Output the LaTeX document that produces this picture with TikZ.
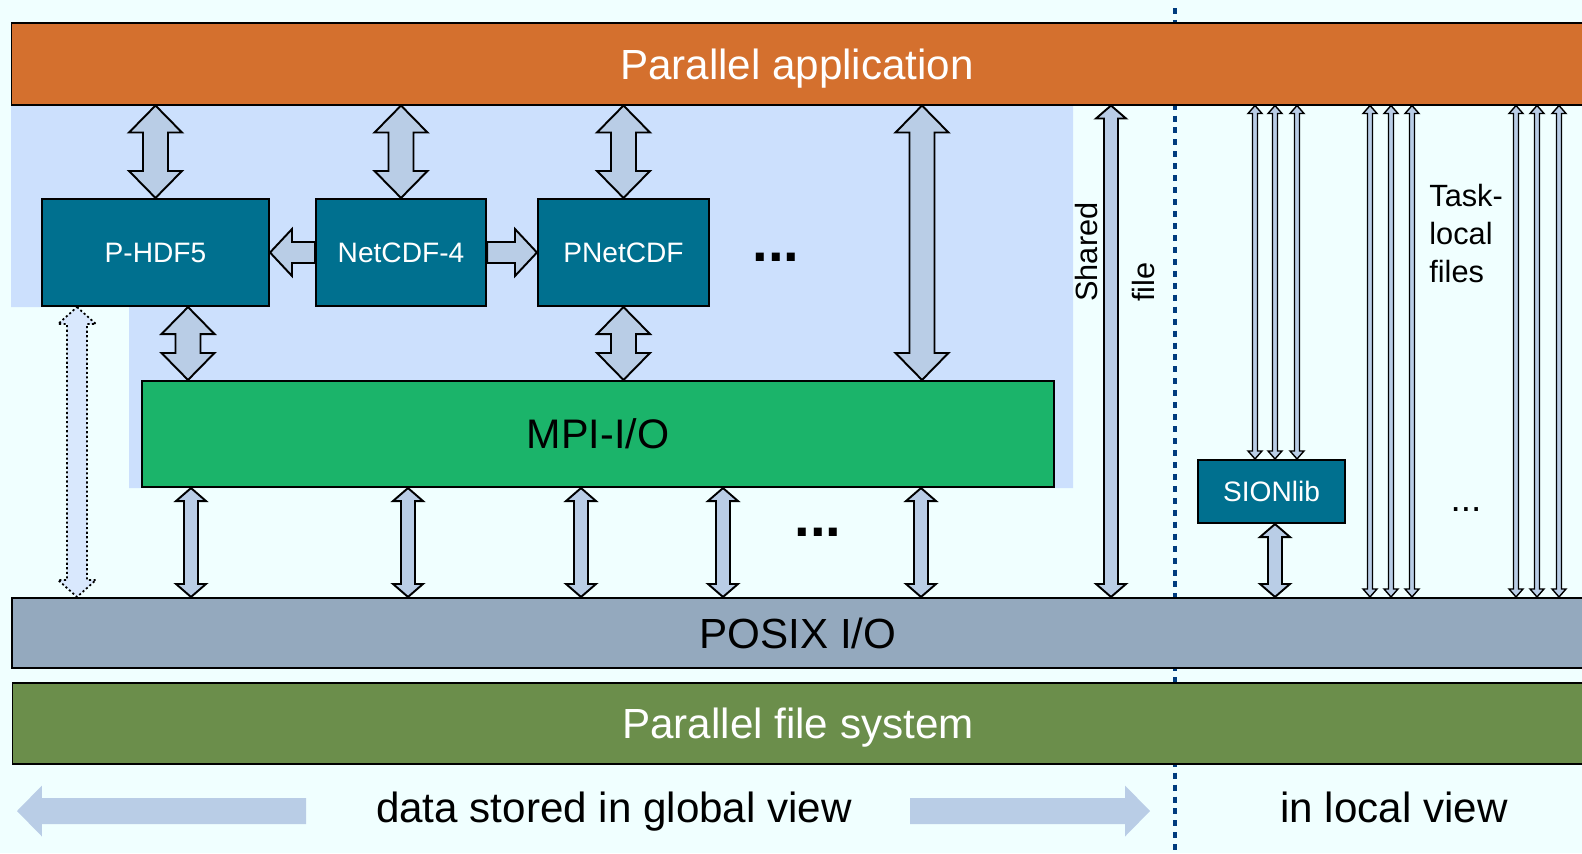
\documentclass[tikz,border=0pt]{standalone}
\usepackage{fontspec}
\setmainfont{Liberation Sans}
\usetikzlibrary{calc}
\definecolor{bgcol}{HTML}{F0FFFF}
\definecolor{appcol}{HTML}{D4702E}
\definecolor{areacol}{HTML}{CCE0FD}
\definecolor{boxcol}{HTML}{00708F}
\definecolor{mpicol}{HTML}{1BB46A}
\definecolor{posixcol}{HTML}{94A9BE}
\definecolor{fscol}{HTML}{6B8E4B}
\definecolor{arrowfill}{HTML}{B9CDE6}
\definecolor{dotfill}{HTML}{D9E8FD}
\definecolor{divcol}{HTML}{003C7E}
\tikzset{
	arrowsize/.code args={#1/#2/#3}{\def\shaftw{#1}\def\headw{#2}\def\headl{#3}},
	bar/.style={draw=black, line width=0.6pt, minimum width=31.44cm, inner sep=0pt,
		text height=17.2pt, text depth=0pt, font=\fontsize{24}{29}\selectfont},
	mpibox/.style={draw=black, line width=1.2pt, fill=mpicol, minimum width=18.24cm,
		minimum height=2.12cm, inner sep=0pt, font=\fontsize{23.5}{28}\selectfont},
	libbox/.style={draw=black, line width=1.2pt, fill=boxcol, text=white, inner sep=0pt,
		minimum height=2.14cm, font=\fontsize{16}{19}\selectfont},
	blockarrow/.style={draw=black, line width=1.1pt, fill=arrowfill, line join=miter},
	bigarrow/.style={blockarrow, arrowsize=0.25cm/0.53cm/0.54cm},
	sidearrow/.style={blockarrow, arrowsize=0.21cm/0.47cm/0.44cm},
	smallarrow/.style={blockarrow, arrowsize=0.14cm/0.3cm/0.26cm},
	thinarrow/.style={blockarrow, line width=0.8pt, arrowsize=0.05cm/0.14cm/0.16cm},
	dotarrow/.style={draw=black, line width=1pt, dash pattern=on 1.2pt off 1.4pt,
		fill=dotfill, arrowsize=0.2cm/0.38cm/0.34cm},
	flatarrow/.style={fill=arrowfill, draw=none, arrowsize=0.26cm/0.51cm/0.5cm},
	divider/.style={divcol, line width=2.3pt, dash pattern=on 3.4pt off 3.4pt},
	label/.style={font=\fontsize{24}{29}\selectfont, inner sep=0pt},
	small/.style={font=\fontsize{17.5}{21.6}\selectfont, inner sep=0pt},
	dots/.style={font=\fontsize{32}{36}\selectfont\bfseries, inner sep=0pt, anchor=base}
}
% double block arrow, top end first
\newcommand\vdouble[3][bigarrow]{%
	\draw[#1] let \p1=(#2), \p2=(#3) in
		(\x1,\y1) -- ({\x1+\headw},{\y1-\headl}) -- ({\x1+\shaftw},{\y1-\headl})
		-- ({\x1+\shaftw},{\y2+\headl}) -- ({\x1+\headw},{\y2+\headl}) -- (\x1,\y2)
		-- ({\x1-\headw},{\y2+\headl}) -- ({\x1-\shaftw},{\y2+\headl})
		-- ({\x1-\shaftw},{\y1-\headl}) -- ({\x1-\headw},{\y1-\headl}) -- cycle;
}
% single block arrow, pointing at the second end
\newcommand\hsingle[3][sidearrow]{%
	\draw[#1] let \p1=(#2), \p2=(#3), \n1={sign(\x2-\x1)} in
		(\x1,{\y1+\shaftw}) -- ({\x2-(\n1)*\headl},{\y1+\shaftw})
		-- ({\x2-(\n1)*\headl},{\y1+\headw}) -- (\x2,\y1)
		-- ({\x2-(\n1)*\headl},{\y1-\headw}) -- ({\x2-(\n1)*\headl},{\y1-\shaftw})
		-- (\x1,{\y1-\shaftw}) -- cycle;
}

\begin{document}
\begin{tikzpicture}[x=0.02cm, y=-0.02cm]
	% canvas
	\fill[bgcol] (0,0) rectangle (1582,853);
	\useasboundingbox (0,0) rectangle (1582,853);
	
	% area of the global-view libraries
	\fill[areacol] (11,105) -- (1073,105) -- (1073,488) -- (129,488)
		-- (129,307) -- (11,307) -- cycle;
	
	% divider global / local
	\draw[divider] (1175,8) -- (1175,853);
	
	% layers
	\node[bar, fill=appcol, text=white, minimum height=1.64cm] (app) at (797,64) {Parallel application};
	\node[bar, fill=posixcol, line width=1.2pt, minimum height=1.4cm] (posix) at (798,633) {POSIX I/O};
	\node[bar, fill=fscol, text=white, minimum height=1.62cm] (pfs) at (798,723.5) {Parallel file system};
	\node[mpibox] (mpi) at (598,434) {MPI-I/O};
	
	% libraries
	\node[libbox, minimum width=4.54cm] (phdf) at (155.5,252.5) {P-HDF5};
	\node[libbox, minimum width=3.4cm] (ncdf) at (401,252.5) {NetCDF-4};
	\node[libbox, minimum width=3.42cm] (pncdf) at (623.5,252.5) {PNetCDF};
	\node[libbox, minimum width=2.94cm, minimum height=1.26cm] (sion) at (1271.5,491.5) {SIONlib};
	\node[dots] (libdots) at (776,261) {...};
	\node[dots] (mpidots) at (818,536) {...};
	\node[small, font=\fontsize{21}{24}\selectfont, anchor=base] (taskdots) at (1466,511) {...};
	
	% application to libraries
	\foreach \lib in {phdf,ncdf,pncdf}
		\vdouble[bigarrow]{\lib.north |- app.south}{\lib.north};
	\coordinate (direct) at (922,0);
	\vdouble[bigarrow]{direct |- app.south}{direct |- mpi.north}
	
	% libraries to MPI-I/O
	\coordinate (hdfdown) at (188,0);
	\vdouble[bigarrow]{hdfdown |- phdf.south}{hdfdown |- mpi.north}
	\vdouble[bigarrow]{pncdf.south}{pncdf.south |- mpi.north}
	\hsingle[sidearrow]{ncdf.west}{phdf.east}
	\hsingle[sidearrow]{ncdf.east}{pncdf.west}
	
	% P-HDF5 straight to POSIX
	\coordinate (hdfposix) at (77,0);
	\vdouble[dotarrow]{hdfposix |- phdf.south}{hdfposix |- posix.north}
	
	% MPI-I/O to POSIX
	\foreach \xx in {191,408,581,723,921}{
		\coordinate (m) at (\xx,0);
		\vdouble[smallarrow]{m |- mpi.south}{m |- posix.north}
	}
	
	% shared file
	\coordinate (shared) at (1111,0);
	\vdouble[smallarrow]{shared |- app.south}{shared |- posix.north}
	\node[small, rotate=90, anchor=west] (sharedlbl) at (1086,302) {Shared};
	\node[small, rotate=90, anchor=west] (filelbl) at (1143,302) {file};
	
	% task-local files
	\foreach \xx in {1255,1275,1297}{
		\coordinate (t) at (\xx,0);
		\vdouble[thinarrow]{t |- app.south}{t |- sion.north}
	}
	\foreach \xx in {1370,1391,1412,1516,1537,1559}{
		\coordinate (t) at (\xx,0);
		\vdouble[thinarrow]{t |- app.south}{t |- posix.north}
	}
	\coordinate (sdown) at (1275,0);
	\vdouble[smallarrow]{sdown |- sion.south}{sdown |- posix.north}
	\node[small, anchor=north west, align=left] (task) at (1429,184) {Task-\\local\\files};
	
	% views
	\node[label, anchor=base] (global) at (614,822) {data stored in global view};
	\node[label, anchor=base] (local) at (1394,822) {in local view};
	\coordinate (gl) at (306,811);
	\coordinate (gltip) at (17,811);
	\coordinate (gr) at (910,811);
	\coordinate (grtip) at (1150,811);
	\hsingle[flatarrow]{gl}{gltip}
	\hsingle[flatarrow]{gr}{grtip}
	
\end{tikzpicture}
\end{document}
